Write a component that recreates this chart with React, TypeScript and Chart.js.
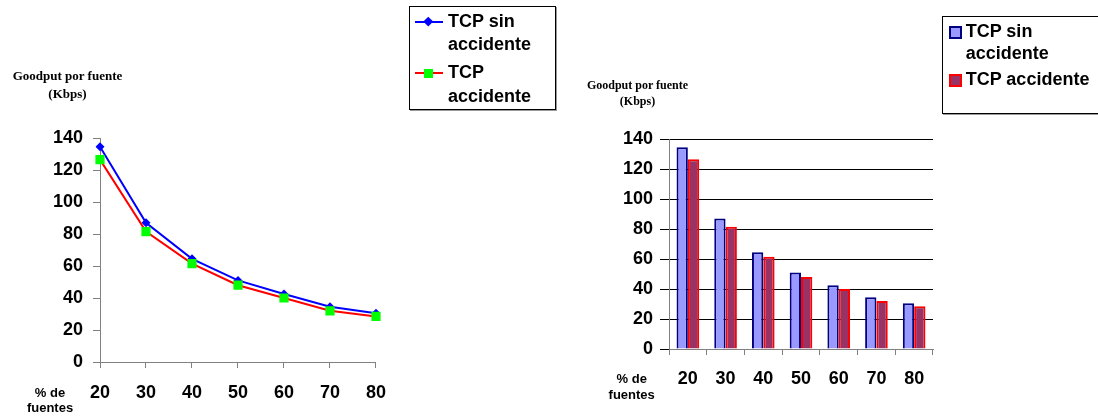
import React, { useEffect, useRef } from 'react';
import { Chart, registerables } from 'chart.js';

Chart.register(...registerables);

// ---- data ----
const categories = ['20', '30', '40', '50', '60', '70', '80'];
const sinAccidente = [134.5, 87, 64.5, 51, 42.5, 34.5, 30.5];
const conAccidente = [126.5, 81.5, 61.5, 48, 40, 32, 28.5];
const seriesLabels = ['TCP sin accidente', 'TCP accidente'];
const yMin = 0;
const yMax = 140;
const yStep = 20;
const yTitleLines = ['Goodput por fuente', '(Kbps)'];
const xTitleLines = ['% de', 'fuentes'];

const SANS = '"Liberation Sans", Arial, sans-serif';
const SERIF = '"Liberation Serif", "Times New Roman", serif';
const tickFont = { family: SANS, size: 18, weight: 'bold' as const };

function LineChart() {
  const ref = useRef<HTMLCanvasElement | null>(null);
  useEffect(() => {
    if (!ref.current) return;
    const chart = new Chart(ref.current, {
      type: 'line',
      data: {
        labels: categories,
        datasets: [
          {
            label: seriesLabels[0],
            data: sinAccidente,
            borderColor: '#0000FF',
            backgroundColor: '#0000FF',
            pointBackgroundColor: '#0000FF',
            pointBorderColor: '#0000FF',
            borderWidth: 2,
            pointStyle: 'rectRot',
            pointRadius: 4.5,
            pointBorderWidth: 0,
            tension: 0,
            order: 1,
          },
          {
            label: seriesLabels[1],
            data: conAccidente,
            borderColor: '#FF0000',
            backgroundColor: '#00FF00',
            pointBackgroundColor: '#00FF00',
            pointBorderColor: '#00FF00',
            borderWidth: 2,
            pointStyle: 'rect',
            pointRadius: 6.5,
            pointBorderWidth: 0,
            tension: 0,
            order: 0,
          },
        ],
      },
      options: {
        responsive: false,
        animation: false,
        devicePixelRatio: 1,
        layout: { padding: { left: 0, top: 138, right: 16, bottom: 0 } },
        plugins: { legend: { display: false }, tooltip: { enabled: false } },
        scales: {
          x: {
            offset: false,
            grid: { drawOnChartArea: false, tickLength: 6, color: '#808080' },
            border: { color: '#808080', width: 1 },
            ticks: { font: tickFont, color: '#000', padding: 14, maxRotation: 0, autoSkip: false },
            afterFit: (s: any) => { s.height = 55; },
          },
          y: {
            min: yMin,
            max: yMax,
            grid: { drawOnChartArea: false, tickLength: 7, color: '#808080' },
            border: { color: '#808080', width: 1 },
            ticks: { stepSize: yStep, font: tickFont, color: '#000', padding: 10 },
            afterFit: (s: any) => { s.width = 100; },
          },
        },
      },
    });
    return () => chart.destroy();
  }, []);
  return (
    <canvas
      ref={ref}
      width={400}
      height={417}
      style={{ position: 'absolute', left: 0, top: 0, width: 400, height: 417 }}
    />
  );
}

function BarChart() {
  const ref = useRef<HTMLCanvasElement | null>(null);
  useEffect(() => {
    if (!ref.current) return;
    const chart = new Chart(ref.current, {
      type: 'bar',
      data: {
        labels: categories,
        datasets: [
          {
            label: seriesLabels[0],
            data: sinAccidente,
            backgroundColor: '#9999FF',
            borderColor: '#000080',
            borderWidth: 2,
            categoryPercentage: 0.6,
            barPercentage: 1.0,
          },
          {
            label: seriesLabels[1],
            data: conAccidente,
            backgroundColor: '#993366',
            borderColor: '#FF0000',
            borderWidth: 2,
            categoryPercentage: 0.6,
            barPercentage: 1.0,
          },
        ],
      },
      options: {
        responsive: false,
        animation: false,
        devicePixelRatio: 1,
        layout: { padding: { left: 0, top: 139, right: 27, bottom: 0 } },
        plugins: { legend: { display: false }, tooltip: { enabled: false } },
        scales: {
          x: {
            grid: { drawOnChartArea: false, tickLength: 6, color: '#808080', offset: true },
            border: { color: '#808080', width: 1 },
            ticks: { font: tickFont, color: '#000', padding: 13, maxRotation: 0, autoSkip: false },
            afterFit: (s: any) => { s.height = 68; },
          },
          y: {
            min: yMin,
            max: yMax,
            grid: { drawOnChartArea: true, tickLength: 9, color: '#000000' },
            border: { color: '#808080', width: 1 },
            ticks: { stepSize: yStep, font: tickFont, color: '#000', padding: 7 },
            afterFit: (s: any) => { s.width = 89; },
          },
        },
      },
    });
    return () => chart.destroy();
  }, []);
  return (
    <canvas
      ref={ref}
      width={380}
      height={417}
      style={{ position: 'absolute', left: 580, top: 0, width: 380, height: 417 }}
    />
  );
}

const textStyle = (left: number, centerY: number, size: number, family: string, align: 'left' | 'center' = 'left'): React.CSSProperties => ({
  position: 'absolute',
  left: align === 'center' ? left - 150 : left,
  width: align === 'center' ? 300 : undefined,
  textAlign: align,
  top: centerY - size * 0.6,
  height: size * 1.2,
  lineHeight: `${size * 1.2}px`,
  fontSize: size,
  fontFamily: family,
  fontWeight: 'bold',
  color: '#000',
  whiteSpace: 'nowrap',
});

export default function App() {
  return (
    <div
      style={{
        position: 'absolute',
        left: 0,
        top: 0,
        width: 1098,
        height: 417,
        overflow: 'hidden',
        background: '#fff',
      }}
    >
      <LineChart />
      <BarChart />

      {/* axis titles, left */}
      <div style={textStyle(67.5, 75.7, 13, SERIF, 'center')}>{yTitleLines[0]}</div>
      <div style={textStyle(67.5, 93.3, 13, SERIF, 'center')}>{yTitleLines[1]}</div>
      <div style={textStyle(50, 393, 13, SANS, 'center')}>{xTitleLines[0]}</div>
      <div style={textStyle(50, 408, 13, SANS, 'center')}>{xTitleLines[1]}</div>

      {/* axis titles, right */}
      <div style={textStyle(637.5, 85, 12, SERIF, 'center')}>{yTitleLines[0]}</div>
      <div style={textStyle(637.5, 101, 12, SERIF, 'center')}>{yTitleLines[1]}</div>
      <div style={textStyle(631.7, 379, 13, SANS, 'center')}>{xTitleLines[0]}</div>
      <div style={textStyle(631.7, 395, 13, SANS, 'center')}>{xTitleLines[1]}</div>

      {/* left legend */}
      <div
        style={{
          position: 'absolute',
          left: 409,
          top: 6,
          width: 145,
          height: 102,
          border: '1px solid #000',
          boxShadow: '1px 1px 0 #999',
          background: '#fff',
        }}
      />
      <div style={{ position: 'absolute', left: 415, top: 20.7, width: 28, height: 2, background: '#0000FF' }} />
      <div style={{ position: 'absolute', left: 425, top: 18.2, width: 6.5, height: 6.5, background: '#0000FF', transform: 'rotate(45deg)' }} />
      <div style={{ position: 'absolute', left: 415, top: 72.3, width: 28, height: 2, background: '#FF0000' }} />
      <div style={{ position: 'absolute', left: 424, top: 68.8, width: 9, height: 9, background: '#00FF00' }} />
      <div style={textStyle(448, 21.7, 18, SANS)}>TCP sin</div>
      <div style={textStyle(448, 45, 18, SANS)}>accidente</div>
      <div style={textStyle(448, 72.7, 18, SANS)}>TCP</div>
      <div style={textStyle(448, 96.7, 18, SANS)}>accidente</div>

      {/* right legend */}
      <div
        style={{
          position: 'absolute',
          left: 942,
          top: 16,
          width: 200,
          height: 96,
          border: '1px solid #000',
          boxShadow: '1px 1px 0 #999',
          background: '#fff',
        }}
      />
      <div style={{ position: 'absolute', left: 949, top: 25.7, width: 9, height: 9, background: '#9999FF', border: '2px solid #000080' }} />
      <div style={{ position: 'absolute', left: 949, top: 74, width: 9, height: 9, background: '#993366', border: '2px solid #FF0000' }} />
      <div style={textStyle(965.7, 31.7, 18, SANS)}>TCP sin</div>
      <div style={textStyle(965.7, 53.3, 18, SANS)}>accidente</div>
      <div style={textStyle(965.7, 80, 18, SANS)}>TCP accidente</div>
    </div>
  );
}
